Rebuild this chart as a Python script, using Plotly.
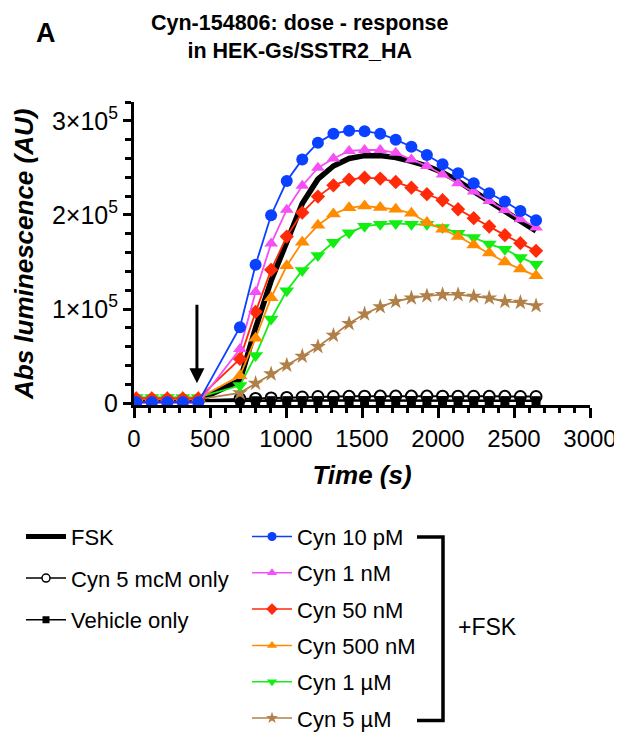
import plotly.graph_objects as go

# ---------------- data ----------------
time_pre = [15, 117, 219, 321, 423]
time_post = [697, 800, 902, 1005, 1107, 1210, 1312, 1415, 1517, 1620,
             1722, 1825, 1927, 2030, 2132, 2235, 2337, 2440, 2542, 2645]
injection_time = 414

fsk_pre = [3000, 3000, 3000, 3000, 3000]
fsk_post = [24000, 80000, 130000, 172000, 212000, 238000, 252000, 260000, 263000, 263000,
            261000, 257000, 252000, 245000, 236000, 225000, 214800, 204000, 193600, 183000]

cyn5only_pre = [3000, 3000, 3000, 3000, 3000]
cyn5only_post = [4500, 5000, 5500, 6000, 6500, 7000, 7000, 7200, 7400, 7500,
                 7500, 7500, 7500, 7400, 7400, 7300, 7200, 7200, 7000, 7000]

vehicle_pre = [2000, 2000, 2000, 2000, 2000]
vehicle_post = [2500, 2500, 2600, 2600, 2700, 2700, 2700, 2800, 2800, 2800,
                2800, 2800, 2800, 2800, 2700, 2700, 2700, 2700, 2600, 2600]

cyn10pM_pre = [1000, 1000, 1000, 1000, 1000]
cyn10pM_post = [80600, 147000, 199700, 236000, 259000, 276800, 286300, 289500, 289000, 286300,
                280000, 272500, 263600, 253800, 244200, 233600, 223000, 214200, 204200, 194400]

cyn1nM_pre = [0, 0, 0, 0, 0]
cyn1nM_post = [57500, 118000, 169500, 205500, 231000, 250000, 260000, 268000, 269000, 269000,
               266000, 259000, 252000, 243000, 233600, 224800, 214800, 205300, 195400, 186600]

cyn50nM_pre = [5000, 5000, 5000, 5000, 5000]
cyn50nM_post = [47000, 97000, 141700, 177000, 202500, 219500, 231500, 237500, 239600, 238600,
                235000, 229000, 222000, 215600, 206000, 196500, 187700, 178500, 170000, 161800]

cyn500nM_pre = [5000, 5000, 5000, 5000, 5000]
cyn500nM_post = [29000, 69000, 112000, 146000, 171000, 189000, 201000, 207500, 209500, 208000,
                 206000, 201800, 192000, 184800, 177000, 168000, 159400, 150000, 142400, 135300]

cyn1uM_pre = [6000, 6000, 6000, 6000, 6000]
cyn1uM_post = [18700, 50500, 89400, 119400, 141000, 157000, 171000, 181000, 188000, 190000,
               191000, 190000, 190000, 186600, 180600, 176000, 169000, 163600, 154800, 147700]

cyn5uM_pre = [4000, 4000, 4000, 4000, 4000]
cyn5uM_post = [11000, 21000, 31000, 40300, 49800, 60000, 72000, 84500, 94700, 102400,
               108000, 111700, 114000, 115200, 115200, 113500, 111700, 108000, 107000, 103500]

y_tickvals = [0, 100000, 200000, 300000]
y_ticktext = ["0", "1×10<sup>5</sup>", "2×10<sup>5</sup>", "3×10<sup>5</sup>"]
x_tickvals = [0, 500, 1000, 1500, 2000, 2500, 3000]

FONT = "Liberation Sans, Arial, sans-serif"

times = time_pre + time_post

fig = go.Figure()

# FSK thick black line
fig.add_trace(go.Scatter(x=times, y=fsk_pre + fsk_post, mode="lines",
                         line=dict(color="black", width=5.5), showlegend=False))
# Cyn 5 mcM only
fig.add_trace(go.Scatter(x=times, y=cyn5only_pre + cyn5only_post, mode="lines+markers",
                         line=dict(color="black", width=2),
                         marker=dict(symbol="circle", size=11, color="white",
                                     line=dict(color="black", width=2)), showlegend=False))
# Vehicle only (drawn over the open circles, as in the original)
fig.add_trace(go.Scatter(x=times, y=vehicle_pre + vehicle_post, mode="lines+markers",
                         line=dict(color="black", width=2.5),
                         marker=dict(symbol="square", size=9, color="black"), showlegend=False))

series = [
    ("Cyn 5 µM", cyn5uM_pre + cyn5uM_post, "#b08048", "star", 12),
    ("Cyn 1 µM", cyn1uM_pre + cyn1uM_post, "#12ee12", "triangle-down", 13),
    ("Cyn 500 nM", cyn500nM_pre + cyn500nM_post, "#ff8c00", "triangle-up", 13),
    ("Cyn 50 nM", cyn50nM_pre + cyn50nM_post, "#ff2a08", "diamond", 11),
    ("Cyn 1 nM", cyn1nM_pre + cyn1nM_post, "#f550f5", "triangle-up", 12),
    ("Cyn 10 pM", cyn10pM_pre + cyn10pM_post, "#0a40ff", "circle", 12),
]
for name, vals, col, sym, sz in series:
    fig.add_trace(go.Scatter(x=times, y=vals, mode="lines+markers", name=name,
                             line=dict(color=col, width=1.8),
                             marker=dict(symbol=sym, size=sz, color=col), showlegend=False))

# legend entries (legend-only traces, smaller symbols like the original key)
left_items = [
    ("FSK", dict(mode="lines", line=dict(color="black", width=5))),
    ("Cyn 5 mcM only", dict(mode="lines+markers", line=dict(color="black", width=1.5),
                            marker=dict(symbol="circle", size=8, color="white",
                                        line=dict(color="black", width=1.5)))),
    ("Vehicle only", dict(mode="lines+markers", line=dict(color="black", width=1.5),
                          marker=dict(symbol="square", size=7, color="black"))),
]
for i, (name, kw) in enumerate(left_items):
    fig.add_trace(go.Scatter(x=[None], y=[None], name=name, legend="legend",
                             legendgroup=f"l{i}", **kw))

for i, (name, vals, col, sym, sz) in enumerate(reversed(series)):
    fig.add_trace(go.Scatter(x=[None], y=[None], name=name, legend="legend2",
                             legendgroup=f"r{i}", mode="lines+markers",
                             line=dict(color=col, width=1.5),
                             marker=dict(symbol=sym, size=9, color=col)))

# injection arrow
fig.add_annotation(x=injection_time, y=21000, ax=injection_time, ay=106000,
                   xref="x", yref="y", axref="x", ayref="y", text="",
                   showarrow=True, arrowhead=2, arrowsize=1, arrowwidth=3,
                   arrowcolor="black")

# plot area geometry in page pixels (page body adds an 8px offset)
OFF = 8
PAGE_W, PAGE_H = 622, 740
L, R, T, B = 134, 590, 102, 405
W, H = R - L, B - T
px = lambda p: (p - L) / W
py = lambda p: (B - p) / H

# title
fig.add_annotation(text="<b>Cyn-154806: dose - response<br>in HEK-Gs/SSTR2_HA</b>",
                   x=px(300), y=py(37), xref="paper", yref="paper", showarrow=False,
                   xanchor="center", yanchor="middle", align="center",
                   font=dict(size=21.5, family=FONT, color="black"))
# panel letter
fig.add_annotation(text="<b>A</b>", x=px(46), y=py(33), xref="paper",
                   yref="paper", showarrow=False, font=dict(size=27, family=FONT),
                   xanchor="center", yanchor="middle")
# y axis title
fig.add_annotation(text="<b><i>Abs luminescence (AU)</i></b>", x=px(24), y=py(255),
                   xref="paper", yref="paper", showarrow=False, textangle=-90,
                   xanchor="center", yanchor="middle",
                   font=dict(size=26, family=FONT, color="black"))

# bracket + label for the +FSK group
fig.add_shape(type="path", xref="paper", yref="paper",
              path=f"M {px(417)} {py(537)} L {px(443)} {py(537)} L {px(443)} {py(720.5)} L {px(417)} {py(720.5)}",
              line=dict(color="black", width=3.5))
fig.add_annotation(text="+FSK", x=px(456), y=py(627), xref="paper", yref="paper",
                   showarrow=False, xanchor="left", yanchor="middle",
                   font=dict(size=23, family=FONT, color="black"))

fig.update_layout(
    width=PAGE_W - OFF, height=PAGE_H - OFF,
    margin=dict(l=L - OFF, r=PAGE_W - R, t=T - OFF, b=PAGE_H - B, autoexpand=False),
    paper_bgcolor="white", plot_bgcolor="white",
    font=dict(family=FONT, color="black"),
    legend=dict(x=px(21), y=py(515.7), xanchor="left", yanchor="top",
                font=dict(size=22, family=FONT), traceorder="grouped",
                tracegroupgap=10, itemwidth=40, bgcolor="rgba(0,0,0,0)"),
    legend2=dict(x=px(247), y=py(515.7), xanchor="left", yanchor="top",
                 font=dict(size=22, family=FONT), traceorder="grouped",
                 tracegroupgap=4.7, itemwidth=40, bgcolor="rgba(0,0,0,0)"),
    showlegend=True,
)

fig.update_xaxes(range=[0, 3000], tickvals=x_tickvals, ticks="outside", ticklen=10,
                 tickwidth=3, tickcolor="black", showline=True, linewidth=3,
                 linecolor="black", showgrid=False, zeroline=False, automargin=False,
                 tickfont=dict(size=24, family=FONT),
                 minor=dict(dtick=100, ticks="outside", ticklen=5, tickwidth=3,
                            tickcolor="black", showgrid=False),
                 title=dict(text="<b><i>Time (s)</i></b>", font=dict(size=26, family=FONT),
                            standoff=16))
fig.update_yaxes(range=[-2000, 320000], tickvals=y_tickvals, ticktext=y_ticktext,
                 ticks="outside", ticklen=8, tickwidth=3, tickcolor="black",
                 showline=True, linewidth=3, linecolor="black", showgrid=False,
                 zeroline=False, automargin=False, tickfont=dict(size=25, family=FONT),
                 minor=dict(dtick=20000, tick0=0, ticks="outside", ticklen=6, tickwidth=3,
                            tickcolor="black", showgrid=False))

fig.write_html("out.html")
